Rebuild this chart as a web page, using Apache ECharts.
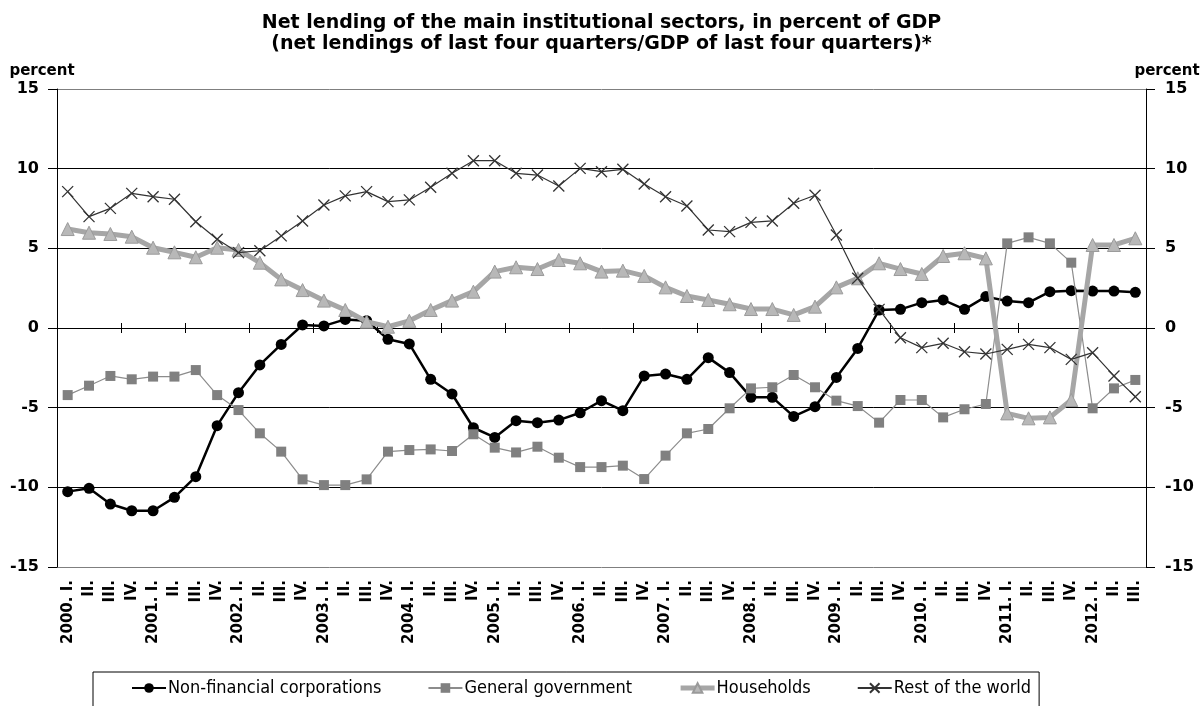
<!DOCTYPE html>
<html>
<head>
<meta charset="utf-8">
<script src="https://cdn.jsdelivr.net/npm/echarts@6/dist/echarts.min.js"></script>
<style>
html,body{margin:0;padding:0;background:#fff;}
#chart{width:1203px;height:706px;}
</style>
</head>
<body>
<div id="chart"></div>
<script>
var years = ['2000', '2001', '2002', '2003', '2004', '2005', '2006', '2007', '2008', '2009', '2010', '2011', '2012'];
var quarters = ['I.', 'II.', 'III.', 'IV.'];
var lastYearQuarters = 3;

var nonFinancial = [-10.27,-10.06,-11.05,-11.47,-11.47,-10.63,-9.33,-6.13,-4.06,-2.32,-1.03,0.19,0.13,0.54,0.46,-0.71,-1.00,
  -3.22,-4.14,-6.26,-6.87,-5.82,-5.94,-5.78,-5.32,-4.56,-5.19,-3.01,-2.89,-3.22,-1.86,-2.80,-4.35,-4.35,-5.55,-4.94,
  -3.10,-1.28,1.13,1.17,1.59,1.76,1.17,1.97,1.69,1.59,2.28,2.34,2.32,2.32,2.24];
var government = [-4.21,-3.62,-3.01,-3.22,-3.05,-3.05,-2.64,-4.21,-5.15,-6.61,-7.76,-9.50,-9.86,-9.86,-9.50,-7.76,-7.66,
  -7.62,-7.72,-6.67,-7.51,-7.81,-7.45,-8.14,-8.73,-8.73,-8.64,-9.48,-8.01,-6.61,-6.34,-5.04,-3.79,-3.72,-2.95,-3.72,
  -4.56,-4.90,-5.94,-4.52,-4.52,-5.61,-5.10,-4.77,5.31,5.69,5.31,4.10,-5.04,-3.79,-3.26];
var households = [6.21,5.98,5.90,5.73,5.04,4.75,4.44,5.04,4.90,4.10,3.05,2.38,1.72,1.13,0.40,0.08,0.45,
  1.13,1.72,2.28,3.54,3.81,3.70,4.27,4.06,3.54,3.60,3.27,2.55,2.01,1.76,1.49,1.19,1.19,0.82,1.34,
  2.55,3.12,4.06,3.70,3.39,4.52,4.69,4.37,-5.36,-5.67,-5.61,-4.52,5.21,5.21,5.63];
var restOfWorld = [8.56,6.99,7.51,8.45,8.24,8.08,6.67,5.57,4.73,4.85,5.78,6.72,7.72,8.29,8.56,7.93,8.04,
  8.83,9.71,10.50,10.50,9.71,9.60,8.91,10.02,9.81,9.96,9.04,8.24,7.66,6.15,6.05,6.63,6.72,7.83,8.33,
  5.84,3.12,1.17,-0.61,-1.23,-0.96,-1.49,-1.63,-1.34,-1.03,-1.23,-1.97,-1.55,-3.01,-4.31];

var yTicks = [-15, -10, -5, 0, 5, 10, 15];

var categories = [];
years.forEach(function (y, yi) {
  var n = (yi === years.length - 1) ? lastYearQuarters : 4;
  for (var q = 0; q < n; q++) {
    categories.push(q === 0 ? y + '. ' + quarters[q] : quarters[q]);
  }
});

var FONT = '"DejaVu Sans", sans-serif';
var FONTC = '"DejaVu Sans Condensed", "DejaVu Sans", sans-serif';
var chart = echarts.init(document.getElementById('chart'));

var xPath = 'path://M0,0L10,10M10,0L0,10';

var yAxisCommon = {
  type: 'value',
  min: yTicks[0],
  max: yTicks[yTicks.length - 1],
  interval: 5,
  axisLine: { show: true, lineStyle: { color: '#000', width: 1 } },
  axisTick: { show: true, length: 9, lineStyle: { color: '#000' } },
  name: 'percent',
  nameLocation: 'end',
  nameGap: 10,
  nameTextStyle: { fontFamily: FONT, fontWeight: 'bold', fontSize: 15, color: '#000' }
};

var option = {
  backgroundColor: '#fff',
  animation: false,
  title: {
    text: 'Net lending of the main institutional sectors, in percent of GDP\n(net lendings of last four quarters/GDP of last four quarters)*',
    left: 'center',
    top: 8,
    textStyle: { fontFamily: FONT, fontWeight: 'bold', fontSize: 19, color: '#000', lineHeight: 21 }
  },
  grid: { left: 57, right: 57, top: 89, bottom: 139, containLabel: false },
  legend: {
    left: 93,
    top: 672,
    padding: [7, 8, 14, 38],
    borderColor: '#000',
    borderWidth: 1,
    itemGap: 46,
    itemWidth: 34,
    itemHeight: 12,
    textStyle: { fontFamily: FONTC, fontSize: 18, color: '#000', padding: [0, 0, 0, -3] },
    data: [
      { name: 'Non-financial corporations' },
      { name: 'General government' },
      { name: 'Households', lineStyle: { width: 5, color: '#a6a6a6' } },
      { name: 'Rest of the world' }
    ]
  },
  xAxis: [
    {
      type: 'category', data: categories, boundaryGap: true, position: 'bottom',
      axisLine: { onZero: true, lineStyle: { color: '#000', width: 1 } },
      axisTick: { show: true, length: 5, lineStyle: { color: '#000' } },
      axisLabel: { show: false }, splitLine: { show: false }
    },
    {
      type: 'category', data: categories, boundaryGap: true, position: 'bottom',
      axisLine: { show: false, onZero: true },
      axisTick: { show: true, inside: true, length: 5, lineStyle: { color: '#000' } },
      axisLabel: { show: false }, splitLine: { show: false }
    },
    {
      type: 'category', data: categories, boundaryGap: true, position: 'bottom',
      axisLine: { show: false, onZero: false },
      axisTick: { show: false },
      axisLabel: { interval: 0, rotate: 90, fontFamily: FONT, fontWeight: 'bold', fontSize: 15, color: '#000', margin: 13 },
      splitLine: { show: false }
    }
  ],
  yAxis: [
    Object.assign({}, yAxisCommon, {
      position: 'left',
      axisLabel: { fontFamily: FONT, fontWeight: 'bold', fontSize: 16, color: '#000', margin: 18 },
      splitLine: { show: true, lineStyle: { color: ['#7f7f7f', '#000', '#000', '#000', '#000', '#000', '#7f7f7f'], width: 1 } },
      nameTextStyle: Object.assign({}, yAxisCommon.nameTextStyle, { padding: [0, 30, 0, 0] })
    }),
    Object.assign({}, yAxisCommon, {
      position: 'right',
      axisLabel: { fontFamily: FONT, fontWeight: 'bold', fontSize: 16, color: '#000', margin: 19 },
      splitLine: { show: false },
      nameTextStyle: Object.assign({}, yAxisCommon.nameTextStyle, { padding: [0, 0, 0, 42] })
    })
  ],
  series: [
    {
      name: 'Non-financial corporations', type: 'line', data: nonFinancial, xAxisIndex: 0, yAxisIndex: 0,
      symbol: 'circle', symbolSize: 11, showAllSymbol: true,
      lineStyle: { color: '#000', width: 2.5 },
      itemStyle: { color: '#000' }, z: 3
    },
    {
      name: 'General government', type: 'line', data: government, xAxisIndex: 0, yAxisIndex: 0,
      symbol: 'rect', symbolSize: 10, showAllSymbol: true,
      lineStyle: { color: '#8c8c8c', width: 1.2 },
      itemStyle: { color: '#808080' }, z: 4
    },
    {
      name: 'Households', type: 'line', data: households, xAxisIndex: 0, yAxisIndex: 0,
      symbol: 'triangle', symbolSize: 13, showAllSymbol: true,
      lineStyle: { color: '#a6a6a6', width: 5 },
      itemStyle: { color: '#b8b8b8', borderColor: '#9a9a9a', borderWidth: 1 }, z: 5
    },
    {
      name: 'Rest of the world', type: 'line', data: restOfWorld, xAxisIndex: 0, yAxisIndex: 0,
      symbol: xPath, symbolSize: 11, showAllSymbol: true,
      lineStyle: { color: '#333', width: 1.2 },
      itemStyle: { color: 'none', borderColor: '#333', borderWidth: 1.3 }, z: 6
    }
  ]
};
chart.setOption(option);
</script>
</body>
</html>
